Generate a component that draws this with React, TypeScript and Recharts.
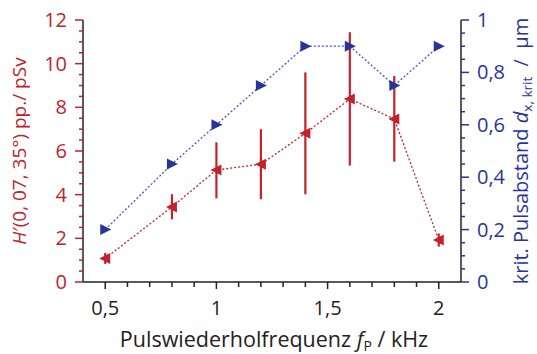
import { ComposedChart, Line, XAxis, YAxis, ErrorBar } from "recharts"

// Pulswiederholfrequenz in kHz
const freq = [0.5, 0.8, 1.0, 1.2, 1.4, 1.6, 1.8, 2.0]
// H'(0,07, 35°) in pSv pro Puls
const dose = [1.08, 3.44, 5.13, 5.39, 6.81, 8.38, 7.47, 1.92]
const doseErrLow = [0.25, 0.57, 1.3, 1.6, 2.79, 3.05, 1.96, 0.3]
const doseErrHigh = [0.25, 0.58, 1.27, 1.61, 2.79, 3.06, 1.96, 0.3]
// kritischer Pulsabstand in µm
const distance = [0.2, 0.45, 0.6, 0.75, 0.9, 0.9, 0.75, 0.9]

const xTicks = [0.5, 0.6, 0.7, 0.8, 0.9, 1.0, 1.1, 1.2, 1.3, 1.4, 1.5, 1.6, 1.7, 1.8, 1.9, 2.0]
const xMajor = [0.5, 1.0, 1.5, 2.0]
const leftTicks = [0, 0.5, 1, 1.5, 2, 2.5, 3, 3.5, 4, 4.5, 5, 5.5, 6, 6.5, 7, 7.5, 8, 8.5, 9, 9.5, 10, 10.5, 11, 11.5, 12]
const leftMajor = [0, 2, 4, 6, 8, 10, 12]
const rightTicks = [0, 0.05, 0.1, 0.15, 0.2, 0.25, 0.3, 0.35, 0.4, 0.45, 0.5, 0.55, 0.6, 0.65, 0.7, 0.75, 0.8, 0.85, 0.9, 0.95, 1]
const rightMajor = [0, 0.2, 0.4, 0.6, 0.8, 1]

const data = freq.map((f, i) => ({
  f,
  dose: dose[i],
  doseErr: [doseErrLow[i], doseErrHigh[i]],
  distance: distance[i],
}))

const RED = "#c0232b"
const BLUE = "#28349a"
const FONT = "'Open Sans', sans-serif"
const FS = 20

const fmt = (v: number) => String(Math.round(v * 100) / 100).replace(".", ",")
const isMajor = (list: number[], v: number) => list.some((m) => Math.abs(m - v) < 1e-6)

const XTick = (props: any) => {
  const { x, y, payload } = props
  const major = isMajor(xMajor, payload.value)
  return (
    <g>
      <line x1={x} x2={x} y1={y} y2={y + (major ? 7 : 5)} stroke="#222" strokeWidth={1.5} />
      {major && (
        <text x={x} y={y + 33} textAnchor="middle" fontFamily={FONT} fontSize={FS} fill="#222">
          {fmt(payload.value)}
        </text>
      )}
    </g>
  )
}

const LeftTick = (props: any) => {
  const { x, y, payload } = props
  const major = isMajor(leftMajor, payload.value)
  return (
    <g>
      <line x1={x} x2={x - (major ? 8 : 4)} y1={y} y2={y} stroke={RED} strokeWidth={1.5} />
      {major && (
        <text x={x - 16} y={y + 7} textAnchor="end" fontFamily={FONT} fontSize={FS} fill={RED}>
          {fmt(payload.value)}
        </text>
      )}
    </g>
  )
}

const RightTick = (props: any) => {
  const { x, y, payload } = props
  const major = isMajor(rightMajor, payload.value)
  return (
    <g>
      <line x1={x} x2={x + (major ? 8 : 4)} y1={y} y2={y} stroke={BLUE} strokeWidth={1.5} />
      {major && (
        <text x={x + 16} y={y + 7} textAnchor="start" fontFamily={FONT} fontSize={FS} fill={BLUE}>
          {fmt(payload.value)}
        </text>
      )}
    </g>
  )
}

const LeftTriangle = (props: any) => {
  const { cx, cy } = props
  if (cx == null || cy == null) return null
  return <path d={`M${cx - 6},${cy} L${cx + 5},${cy - 5.5} L${cx + 5},${cy + 5.5} Z`} fill={RED} />
}

const RightTriangle = (props: any) => {
  const { cx, cy } = props
  if (cx == null || cy == null) return null
  return <path d={`M${cx + 6},${cy} L${cx - 5},${cy - 5.5} L${cx - 5},${cy + 5.5} Z`} fill={BLUE} />
}

export default function App() {
  return (
    <div style={{ position: "absolute", left: 0, top: 0, width: 537, height: 354, background: "#fff" }}>
      <ComposedChart width={537} height={354} data={data} margin={{ top: 20, right: 0, bottom: 0, left: 0 }}>
        <XAxis
          dataKey="f"
          type="number"
          domain={[0.4, 2.1]}
          ticks={xTicks}
          interval={0}
          tick={<XTick />}
          tickLine={false}
          tickSize={0}
          tickMargin={0}
          height={72}
          axisLine={{ stroke: "#222", strokeWidth: 1.5 }}
        />
        <XAxis
          xAxisId="top"
          orientation="top"
          dataKey="f"
          type="number"
          domain={[0.4, 2.1]}
          tick={false}
          tickLine={false}
          height={0}
          axisLine={{ stroke: "#222", strokeWidth: 1.5 }}
        />
        <YAxis
          yAxisId="left"
          domain={[0, 12]}
          ticks={leftTicks}
          interval={0}
          tick={<LeftTick />}
          tickLine={false}
          tickSize={0}
          tickMargin={0}
          width={83}
          axisLine={{ stroke: "#222", strokeWidth: 1.5 }}
        />
        <YAxis
          yAxisId="right"
          orientation="right"
          domain={[0, 1]}
          ticks={rightTicks}
          interval={0}
          tick={<RightTick />}
          tickLine={false}
          tickSize={0}
          tickMargin={0}
          width={76}
          axisLine={{ stroke: "#222", strokeWidth: 1.5 }}
        />
        <Line
          yAxisId="right"
          dataKey="distance"
          stroke="#4656c8"
          strokeWidth={1.3}
          strokeDasharray="2 2"
          dot={<RightTriangle />}
          activeDot={false}
          isAnimationActive={false}
        />
        <Line
          yAxisId="left"
          dataKey="dose"
          stroke={RED}
          strokeWidth={1.3}
          strokeDasharray="2 2"
          dot={<LeftTriangle />}
          activeDot={false}
          isAnimationActive={false}
        >
          <ErrorBar dataKey="doseErr" width={0} stroke={RED} strokeWidth={2.2} direction="y" />
        </Line>
      </ComposedChart>
      <svg
        width={537}
        height={354}
        style={{ position: "absolute", left: 0, top: 0, pointerEvents: "none" }}
        fontFamily={FONT}
      >
        <text x={274} y={347} textAnchor="middle" fill="#222" fontSize={21.5}>
          Pulswiederholfrequenz <tspan fontStyle="italic">f</tspan>
          <tspan fontSize={14} dy={4}>P</tspan>
          <tspan dy={-4}> / kHz</tspan>
        </text>
        <text transform="translate(26,151) rotate(-90)" textAnchor="middle" fill={RED} fontSize={19}>
          <tspan fontStyle="italic">H</tspan>′(0, 07, 35°) pp./ pSv
        </text>
        <text transform="translate(528,151) rotate(-90)" textAnchor="middle" fill={BLUE} fontSize={20}>
          krit. Pulsabstand <tspan fontStyle="italic">d</tspan>
          <tspan fontSize={13.5} dy={4}>x, krit</tspan>
          <tspan dy={-4}>{"\u00a0\u00a0/\u00a0\u00a0µm"}</tspan>
        </text>
      </svg>
    </div>
  )
}
